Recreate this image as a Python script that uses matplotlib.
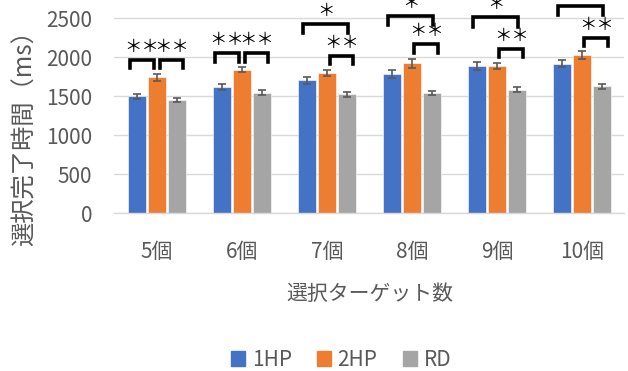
import matplotlib.pyplot as plt
from matplotlib.patches import Patch
import numpy as np

plt.rcParams['font.family'] = ['Noto Sans CJK JP', 'DejaVu Sans']

categories = ['5個', '6個', '7個', '8個', '9個', '10個']
series_names = ['1HP', '2HP', 'RD']
colors = ['#4472C4', '#ED7D31', '#A5A5A5']

hp1 = [1500, 1620, 1705, 1785, 1885, 1915]
hp2 = [1740, 1840, 1795, 1920, 1885, 2030]
rd = [1450, 1545, 1525, 1535, 1585, 1625]
hp1_err = [30, 35, 45, 55, 50, 45]
hp2_err = [40, 35, 35, 55, 35, 50]
rd_err = [30, 30, 30, 25, 30, 30]

# significance brackets: (group, pair, top, leg bottom, label)
brackets = [
    (0, '1-2', 1965, 1860, '＊＊'),
    (0, '2-R', 1965, 1860, '＊＊'),
    (1, '1-2', 2055, 1940, '＊＊'),
    (1, '2-R', 2055, 1940, '＊＊'),
    (2, '1-R', 2420, 2305, '＊'),
    (2, '2-R', 2015, 1910, '＊＊'),
    (3, '1-R', 2530, 2410, '＊'),
    (3, '2-R', 2165, 2055, '＊＊'),
    (4, '1-R', 2510, 2385, '＊'),
    (4, '2-R', 2105, 2000, '＊＊'),
    (5, '1-R', 2655, 2540, '＊'),
    (5, '2-R', 2250, 2145, '＊＊'),
]
pair_span = {'1-2': (-0.32, -0.03), '2-R': (0.03, 0.31), '1-R': (-0.28, 0.25)}

text_color = '#595959'
grid_color = '#D9D9D9'
fs = 15

fig = plt.figure(figsize=(6.28, 3.71), dpi=100)
ax = fig.add_axes([0.1823, 0.425, 0.812, 0.6315])

x = np.arange(len(categories))
width = 0.212
step = 0.235
values = [hp1, hp2, rd]
errs = [hp1_err, hp2_err, rd_err]
for i, (vals, err, name, c) in enumerate(zip(values, errs, series_names, colors)):
    ax.bar(x + (i - 1) * step, vals, width, color=c, edgecolor='white',
           linewidth=0.4, label=name, zorder=2)
    ax.errorbar(x + (i - 1) * step, vals, yerr=err, fmt='none',
                ecolor='#595959', elinewidth=1.2, capsize=3, capthick=1.2, zorder=3)

for g, pair, top, bottom, label in brackets:
    x0, x1 = pair_span[pair]
    xs = [g + x0, g + x0, g + x1, g + x1]
    ys = [bottom, top, top, bottom]
    ax.plot(xs, ys, color='black', linewidth=2.6, solid_joinstyle='miter',
            clip_on=False, zorder=4)
    ax.text(g + (x0 + x1) / 2, top + 50, label, ha='center', va='bottom',
            fontsize=12.5, color='black', clip_on=False)

ax.set_xlim(-0.5, len(categories) - 0.5)
ax.set_ylim(0, 3000)
ax.set_yticks(range(0, 2501, 500))
ax.set_xticks(x)
ax.set_xticklabels(categories)
ax.tick_params(axis='both', length=0, colors=text_color, labelsize=fs)
ax.tick_params(axis='x', pad=20)
ax.tick_params(axis='y', pad=16)
ax.yaxis.grid(True, color=grid_color, linewidth=1)
ax.set_axisbelow(True)
for side in ['top', 'right', 'left']:
    ax.spines[side].set_visible(False)
ax.spines['bottom'].set_color(grid_color)
ax.spines['bottom'].set_linewidth(1)

ax.set_xlabel('選択ターゲット数', color=text_color, fontsize=fs, labelpad=14)
fig.text(0.04, 0.645, '選択完了時間（ms）', rotation=90, ha='center', va='center',
         color=text_color, fontsize=17.5)

handles = [Patch(color=c) for c in colors]
fig.legend(handles, series_names, loc='center', bbox_to_anchor=(0.543, 0.03),
           ncol=3, frameon=False, fontsize=fs, labelcolor=text_color,
           handlelength=0.7, handleheight=0.7, handletextpad=0.3, columnspacing=1.2)

fig.savefig('out.png', dpi=100)
